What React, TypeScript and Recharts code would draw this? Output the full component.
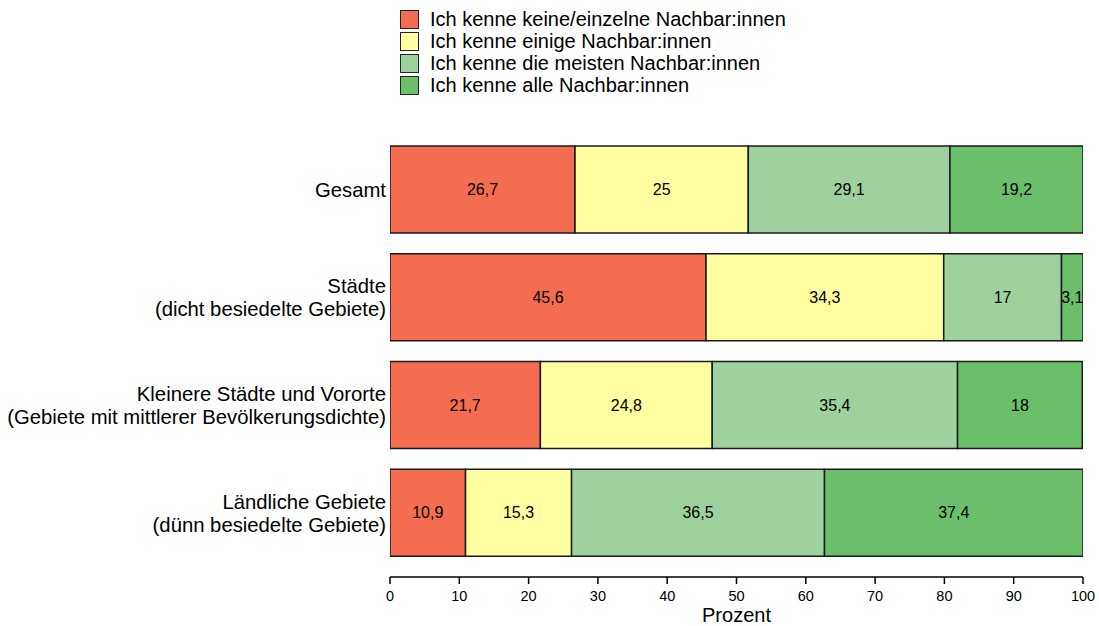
import { BarChart, Bar, XAxis, YAxis, LabelList } from "recharts";

const CATEGORIES = [
  "Gesamt",
  "Städte\n(dicht besiedelte Gebiete)",
  "Kleinere Städte und Vororte\n(Gebiete mit mittlerer Bevölkerungsdichte)",
  "Ländliche Gebiete\n(dünn besiedelte Gebiete)",
];

const KEINE = [26.7, 45.6, 21.7, 10.9];
const EINIGE = [25, 34.3, 24.8, 15.3];
const MEISTEN = [29.1, 17, 35.4, 36.5];
const ALLE = [19.2, 3.1, 18, 37.4];

const X_TICKS = [0, 10, 20, 30, 40, 50, 60, 70, 80, 90, 100];

const SERIES = [
  { key: "keine", name: "Ich kenne keine/einzelne Nachbar:innen", color: "#f46d51", values: KEINE },
  { key: "einige", name: "Ich kenne einige Nachbar:innen", color: "#ffffa1", values: EINIGE },
  { key: "meisten", name: "Ich kenne die meisten Nachbar:innen", color: "#9dd19d", values: MEISTEN },
  { key: "alle", name: "Ich kenne alle Nachbar:innen", color: "#6bbf6b", values: ALLE },
];

const data = CATEGORIES.map((name, i) => {
  const row: Record<string, string | number> = { name };
  SERIES.forEach((s) => {
    row[s.key] = s.values[i];
  });
  return row;
});

const FONT = "'Liberation Sans', Arial, sans-serif";

function CategoryTick({ x, y, payload }: any) {
  const lines = String(payload.value).split("\n");
  const lh = 23;
  const start = -((lines.length - 1) * lh) / 2;
  return (
    <text x={x} y={y} textAnchor="end" fontSize={20.3} fill="#000" fontFamily={FONT}>
      {lines.map((l, i) => (
        <tspan key={i} x={x} y={y + start + i * lh} dy="0.35em">
          {l}
        </tspan>
      ))}
    </text>
  );
}

function renderNumberTick(props: any) {
  const { x, y, payload } = props;
  return (
    <text x={x} y={y} textAnchor="middle" fontSize={14.5} fill="#000" fontFamily={FONT} dy="0.75em">
      {payload.value}
    </text>
  );
}

function BarValue({ x, y, width, height, value }: any) {
  return (
    <text
      x={x + width / 2}
      y={y + height / 2}
      textAnchor="middle"
      dy="0.35em"
      fontSize={16}
      fill="#000"
      fontFamily={FONT}
    >
      {String(value).replace(".", ",")}
    </text>
  );
}

function LegendBox() {
  return (
    <div style={{ position: "absolute", left: 400, top: 8, fontFamily: FONT, fontSize: 20 }}>
      {SERIES.map((s) => (
        <div key={s.key} style={{ display: "flex", alignItems: "center", height: 22 }}>
          <div
            style={{
              width: 17,
              height: 17,
              background: s.color,
              border: "1.5px solid #222",
              marginRight: 11,
            }}
          />
          <span style={{ color: "#000", lineHeight: "22px" }}>{s.name}</span>
        </div>
      ))}
    </div>
  );
}

export default function App() {
  return (
    <div style={{ position: "absolute", left: 0, top: 0, width: 1099, height: 626, background: "#fff" }}>
      <LegendBox />
      <BarChart
        width={1099}
        height={626}
        data={data}
        layout="vertical"
        margin={{ top: 136, right: 16, bottom: 0, left: 0 }}
        style={{ fontFamily: FONT }}
      >
        <XAxis
          type="number"
          domain={[0, 100]}
          ticks={X_TICKS}
          allowDataOverflow
          height={49}
          tickSize={7}
          tickMargin={6}
          axisLine={{ stroke: "#000", strokeWidth: 1.5 }}
          tickLine={{ stroke: "#000", strokeWidth: 1.5 }}
          tick={renderNumberTick}
          label={{ value: "Prozent", position: "insideBottom", offset: 4, fill: "#000", fontSize: 20 }}
        />
        <YAxis
          type="category"
          dataKey="name"
          width={390}
          axisLine={false}
          tickLine={false}
          tickSize={0}
          tickMargin={4}
          padding={{ top: 0, bottom: 10 }}
          tick={<CategoryTick />}
        />
        {SERIES.map((s) => (
          <Bar
            key={s.key}
            dataKey={s.key}
            name={s.name}
            stackId="a"
            fill={s.color}
            stroke="#1a1a1a"
            strokeWidth={1.5}
            barSize={87}
            isAnimationActive={false}
          >
            <LabelList dataKey={s.key} content={<BarValue />} />
          </Bar>
        ))}
      </BarChart>
    </div>
  );
}
